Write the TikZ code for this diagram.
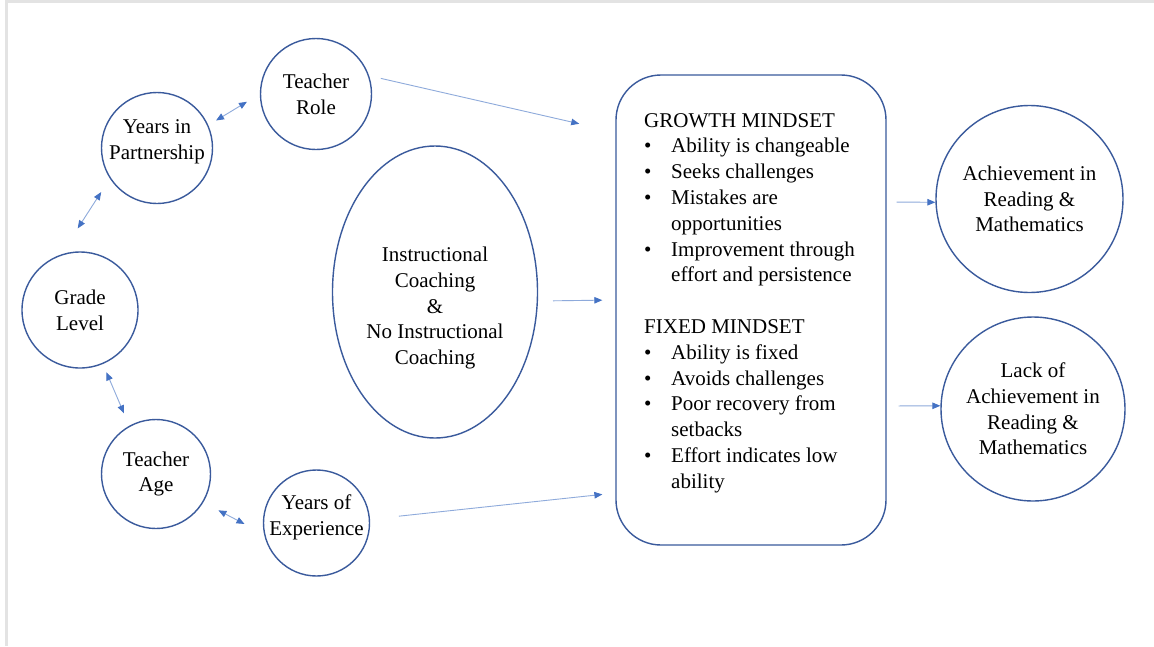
\documentclass[tikz,border=0pt]{standalone}
\usepackage{fontspec}
\setmainfont{Liberation Serif}
\usetikzlibrary{arrows.meta,shapes.geometric}

\definecolor{outline}{RGB}{58,90,156}
\definecolor{linkline}{RGB}{142,170,219}
\definecolor{linktip}{RGB}{68,114,196}
\definecolor{framegray}{RGB}{227,227,227}

\tikzset{
  every node/.style={font=\fontsize{21}{25.8}\selectfont, inner sep=0pt},
  bubble/.style={circle, draw=outline, line width=1.4pt, align=center},
  oval/.style={ellipse, draw=outline, line width=1.4pt, align=center},
  panel/.style={rectangle, rounded corners=45pt, draw=outline, line width=1.4pt},
  link/.style={draw=linkline, line width=0.9pt,
    -{Triangle[length=8pt,width=6.5pt,color=linktip]}},
  twoway/.style={draw=linkline, line width=0.9pt,
    {Triangle[length=8pt,width=6.5pt,color=linktip]}-{Triangle[length=8pt,width=6.5pt,color=linktip]}},
}

\newcommand{\bul}{\makebox[27pt][l]{\textbullet}}
\newcommand{\hang}{\hspace*{27pt}}

\begin{document}
\begin{tikzpicture}[x=1pt,y=-1pt]
  \useasboundingbox (0,0) rectangle (1154,646);
  \fill[white] (0,0) rectangle (1154,646);
  % page frame
  \fill[framegray] (5,0) rectangle (1154,3);
  \fill[framegray] (5,0) rectangle (8,646);

  % teacher factors
  \node[bubble, minimum size=111pt] (tr) at (316,94) {Teacher\\Role};
  \node[bubble, minimum size=111pt,
        label={[align=center,yshift=6pt]center:{Years in\\Partnership}}] (yp) at (157,148) {};
  \node[bubble, minimum size=116pt] (gl) at (80,310) {Grade\\Level};
  \node[bubble, minimum size=109pt] (ta) at (156,474) {Teacher\\Age};
  \node[bubble, minimum size=106pt,
        label={[align=center,yshift=6pt]center:{Years of\\Experience}}] (ye) at (316.5,523) {};

  % coaching condition
  \node[oval, minimum width=205pt, minimum height=292pt,
        label={[align=center,yshift=-16pt]center:{Instructional\\Coaching\\\&\\No Instructional\\Coaching}}] (ic) at (435,292) {};

  % mindset panel
  \node[panel, minimum width=270pt, minimum height=470pt] (box) at (751,310) {};
  \node[anchor=north west, align=left] (mind) at (644,113) {%
    GROWTH MINDSET\\
    \bul Ability is changeable\\
    \bul Seeks challenges\\
    \bul Mistakes are\\
    \hang opportunities\\
    \bul Improvement through\\
    \hang effort and persistence\\[25.8pt]
    FIXED MINDSET\\
    \bul Ability is fixed\\
    \bul Avoids challenges\\
    \bul Poor recovery from\\
    \hang setbacks\\
    \bul Effort indicates low\\
    \hang ability};

  % outcomes
  \node[bubble, minimum size=187pt] (ach) at (1029.5,199) {Achievement in\\Reading \&\\Mathematics};
  \node[bubble, minimum size=184pt] (lack) at (1033,409) {Lack of\\Achievement in\\Reading \&\\Mathematics};

  % links among teacher factors
  \draw[twoway, shorten <=9pt, shorten >=15pt] (yp.24) -- (tr.180);
  \draw[twoway, shorten <=31pt, shorten >=16pt] (gl.109) -- (yp.213);
  \draw[twoway, shorten <=9pt, shorten >=13.5pt] (gl.293) -- (ta.119);
  \draw[twoway, shorten <=17pt, shorten >=22pt] (ta.329) -- (ye.192);

  % links into the mindset panel
  \draw[link, shorten <=12pt, shorten >=37pt] (tr.19) -- ([yshift=178pt]box.west);
  \draw[link, shorten <=15pt, shorten >=13pt] (ic.355) -- ([yshift=10pt]box.west);
  \draw[link, shorten <=29pt, shorten >=13pt] (ye.4) -- ([yshift=-183pt]box.west);

  % links to outcomes
  \draw[link, shorten <=10pt] ([yshift=108pt]box.east) -- (ach.182);
  \draw[link, shorten <=12pt] ([yshift=-96pt]box.east) -- (lack.178);
\end{tikzpicture}
\end{document}
